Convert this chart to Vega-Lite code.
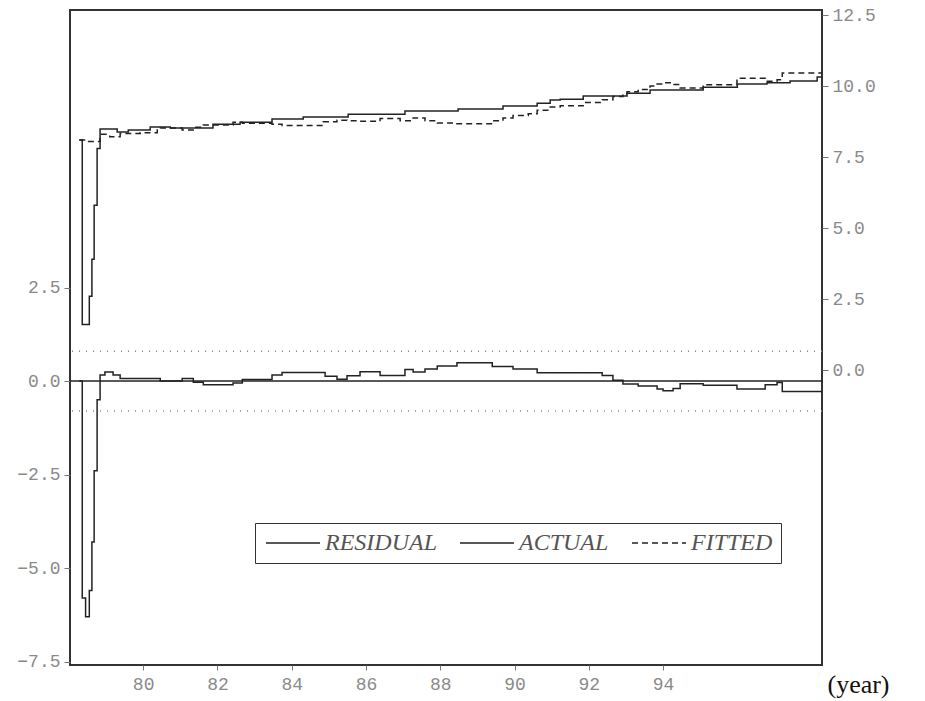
{
  "$schema": "https://vega.github.io/schema/vega-lite/v6.json",
  "width": 752,
  "height": 655,
  "autosize": {"type": "none"},
  "padding": {"left": 70, "top": 10, "right": 103, "bottom": 36},
  "background": "white",
  "config": {
    "view": {"stroke": "#333", "strokeWidth": 2},
    "axis": {"grid": false, "domain": false, "labelFont": "Liberation Mono", "labelFontSize": 18, "labelColor": "#8a8a8a", "tickColor": "#777", "tickSize": 6, "labelPadding": 4}
  },
  "datasets": {
    "series": [
      {"t": 78.28, "s": "ACTUAL", "v": 8.10},
      {"t": 78.36, "s": "ACTUAL", "v": 1.60},
      {"t": 78.55, "s": "ACTUAL", "v": 2.60},
      {"t": 78.62, "s": "ACTUAL", "v": 3.90},
      {"t": 78.68, "s": "ACTUAL", "v": 5.80},
      {"t": 78.76, "s": "ACTUAL", "v": 7.80},
      {"t": 78.84, "s": "ACTUAL", "v": 8.49},
      {"t": 79.30, "s": "ACTUAL", "v": 8.38},
      {"t": 79.60, "s": "ACTUAL", "v": 8.45},
      {"t": 80.19, "s": "ACTUAL", "v": 8.56},
      {"t": 80.73, "s": "ACTUAL", "v": 8.52},
      {"t": 81.88, "s": "ACTUAL", "v": 8.66},
      {"t": 82.61, "s": "ACTUAL", "v": 8.73},
      {"t": 83.47, "s": "ACTUAL", "v": 8.84},
      {"t": 84.31, "s": "ACTUAL", "v": 8.91},
      {"t": 85.52, "s": "ACTUAL", "v": 9.01},
      {"t": 87.05, "s": "ACTUAL", "v": 9.12},
      {"t": 88.48, "s": "ACTUAL", "v": 9.19},
      {"t": 89.69, "s": "ACTUAL", "v": 9.30},
      {"t": 90.61, "s": "ACTUAL", "v": 9.40},
      {"t": 90.96, "s": "ACTUAL", "v": 9.51},
      {"t": 91.23, "s": "ACTUAL", "v": 9.54},
      {"t": 91.85, "s": "ACTUAL", "v": 9.65},
      {"t": 93.03, "s": "ACTUAL", "v": 9.75},
      {"t": 93.65, "s": "ACTUAL", "v": 9.86},
      {"t": 95.08, "s": "ACTUAL", "v": 9.96},
      {"t": 96.00, "s": "ACTUAL", "v": 10.07},
      {"t": 96.80, "s": "ACTUAL", "v": 10.12},
      {"t": 97.42, "s": "ACTUAL", "v": 10.18},
      {"t": 98.15, "s": "ACTUAL", "v": 10.32},
      {"t": 98.28, "s": "ACTUAL", "v": 10.32},
      {"t": 78.28, "s": "FITTED", "v": 8.10},
      {"t": 78.50, "s": "FITTED", "v": 8.05},
      {"t": 78.84, "s": "FITTED", "v": 8.30},
      {"t": 79.10, "s": "FITTED", "v": 8.22},
      {"t": 79.38, "s": "FITTED", "v": 8.33},
      {"t": 79.92, "s": "FITTED", "v": 8.36},
      {"t": 80.38, "s": "FITTED", "v": 8.45},
      {"t": 80.46, "s": "FITTED", "v": 8.52},
      {"t": 81.05, "s": "FITTED", "v": 8.45},
      {"t": 81.35, "s": "FITTED", "v": 8.55},
      {"t": 81.62, "s": "FITTED", "v": 8.63},
      {"t": 82.42, "s": "FITTED", "v": 8.73},
      {"t": 82.67, "s": "FITTED", "v": 8.69},
      {"t": 83.47, "s": "FITTED", "v": 8.66},
      {"t": 83.74, "s": "FITTED", "v": 8.61},
      {"t": 84.85, "s": "FITTED", "v": 8.74},
      {"t": 85.22, "s": "FITTED", "v": 8.80},
      {"t": 85.49, "s": "FITTED", "v": 8.78},
      {"t": 85.84, "s": "FITTED", "v": 8.76},
      {"t": 86.38, "s": "FITTED", "v": 8.86},
      {"t": 86.92, "s": "FITTED", "v": 8.78},
      {"t": 87.27, "s": "FITTED", "v": 8.88},
      {"t": 87.59, "s": "FITTED", "v": 8.78},
      {"t": 87.92, "s": "FITTED", "v": 8.70},
      {"t": 88.45, "s": "FITTED", "v": 8.67},
      {"t": 89.40, "s": "FITTED", "v": 8.78},
      {"t": 89.69, "s": "FITTED", "v": 8.88},
      {"t": 89.96, "s": "FITTED", "v": 8.96},
      {"t": 90.37, "s": "FITTED", "v": 9.03},
      {"t": 90.61, "s": "FITTED", "v": 9.15},
      {"t": 90.96, "s": "FITTED", "v": 9.26},
      {"t": 91.23, "s": "FITTED", "v": 9.31},
      {"t": 91.85, "s": "FITTED", "v": 9.42},
      {"t": 92.36, "s": "FITTED", "v": 9.52},
      {"t": 92.65, "s": "FITTED", "v": 9.63},
      {"t": 92.92, "s": "FITTED", "v": 9.73},
      {"t": 93.03, "s": "FITTED", "v": 9.80},
      {"t": 93.33, "s": "FITTED", "v": 9.88},
      {"t": 93.65, "s": "FITTED", "v": 10.00},
      {"t": 93.84, "s": "FITTED", "v": 10.07},
      {"t": 94.00, "s": "FITTED", "v": 10.12},
      {"t": 94.27, "s": "FITTED", "v": 10.06},
      {"t": 94.46, "s": "FITTED", "v": 9.93},
      {"t": 95.08, "s": "FITTED", "v": 10.05},
      {"t": 95.99, "s": "FITTED", "v": 10.28},
      {"t": 96.75, "s": "FITTED", "v": 10.17},
      {"t": 97.07, "s": "FITTED", "v": 10.22},
      {"t": 97.21, "s": "FITTED", "v": 10.46},
      {"t": 98.28, "s": "FITTED", "v": 10.46},
      {"t": 78.28, "s": "RESIDUAL", "v": 0.0},
      {"t": 78.36, "s": "RESIDUAL", "v": -5.8},
      {"t": 78.45, "s": "RESIDUAL", "v": -6.3},
      {"t": 78.55, "s": "RESIDUAL", "v": -5.6},
      {"t": 78.62, "s": "RESIDUAL", "v": -4.3},
      {"t": 78.68, "s": "RESIDUAL", "v": -2.4},
      {"t": 78.76, "s": "RESIDUAL", "v": -0.5},
      {"t": 78.84, "s": "RESIDUAL", "v": 0.16},
      {"t": 78.97, "s": "RESIDUAL", "v": 0.24},
      {"t": 79.19, "s": "RESIDUAL", "v": 0.16},
      {"t": 79.38, "s": "RESIDUAL", "v": 0.07},
      {"t": 80.46, "s": "RESIDUAL", "v": 0.0},
      {"t": 81.05, "s": "RESIDUAL", "v": 0.07},
      {"t": 81.35, "s": "RESIDUAL", "v": -0.03},
      {"t": 81.62, "s": "RESIDUAL", "v": -0.10},
      {"t": 82.42, "s": "RESIDUAL", "v": -0.05},
      {"t": 82.67, "s": "RESIDUAL", "v": 0.04},
      {"t": 83.47, "s": "RESIDUAL", "v": 0.16},
      {"t": 83.74, "s": "RESIDUAL", "v": 0.23},
      {"t": 84.90, "s": "RESIDUAL", "v": 0.13},
      {"t": 85.22, "s": "RESIDUAL", "v": 0.05},
      {"t": 85.49, "s": "RESIDUAL", "v": 0.14},
      {"t": 85.84, "s": "RESIDUAL", "v": 0.25},
      {"t": 86.38, "s": "RESIDUAL", "v": 0.15},
      {"t": 87.05, "s": "RESIDUAL", "v": 0.31},
      {"t": 87.27, "s": "RESIDUAL", "v": 0.24},
      {"t": 87.59, "s": "RESIDUAL", "v": 0.32},
      {"t": 87.92, "s": "RESIDUAL", "v": 0.40},
      {"t": 88.45, "s": "RESIDUAL", "v": 0.49},
      {"t": 89.40, "s": "RESIDUAL", "v": 0.39},
      {"t": 89.96, "s": "RESIDUAL", "v": 0.32},
      {"t": 90.61, "s": "RESIDUAL", "v": 0.22},
      {"t": 92.36, "s": "RESIDUAL", "v": 0.15},
      {"t": 92.65, "s": "RESIDUAL", "v": 0.02},
      {"t": 92.92, "s": "RESIDUAL", "v": -0.08},
      {"t": 93.33, "s": "RESIDUAL", "v": -0.13},
      {"t": 93.84, "s": "RESIDUAL", "v": -0.21},
      {"t": 94.00, "s": "RESIDUAL", "v": -0.26},
      {"t": 94.27, "s": "RESIDUAL", "v": -0.20},
      {"t": 94.46, "s": "RESIDUAL", "v": -0.07},
      {"t": 95.08, "s": "RESIDUAL", "v": -0.11},
      {"t": 95.99, "s": "RESIDUAL", "v": -0.21},
      {"t": 96.75, "s": "RESIDUAL", "v": -0.10},
      {"t": 97.07, "s": "RESIDUAL", "v": -0.04},
      {"t": 97.21, "s": "RESIDUAL", "v": -0.28},
      {"t": 98.28, "s": "RESIDUAL", "v": -0.28}
    ],
    "bands": [
      {"b": 0.0, "kind": "zero"},
      {"b": 0.8, "kind": "se"},
      {"b": -0.8, "kind": "se"}
    ]
  },
  "layer": [
    {
      "layer": [
        {
          "data": {"name": "bands"},
          "transform": [{"filter": "datum.kind === 'se'"}],
          "mark": {"type": "rule", "color": "#888", "strokeWidth": 1.5, "strokeDash": [1, 6]},
          "encoding": {
            "y": {"field": "b", "type": "quantitative", "scale": {"domain": [-7.59, 9.92], "nice": false, "zero": false},
              "axis": {"orient": "left", "values": [-7.5, -5, -2.5, 0, 2.5], "format": ".1f", "title": null}}
          }
        },
        {
          "data": {"name": "bands"},
          "transform": [{"filter": "datum.kind === 'zero'"}],
          "mark": {"type": "rule", "color": "#222", "strokeWidth": 1.5},
          "encoding": {
            "y": {"field": "b", "type": "quantitative"}
          }
        },
        {
          "data": {"name": "series"},
          "transform": [{"filter": "datum.s === 'RESIDUAL'"}],
          "mark": {"type": "line", "interpolate": "step-after", "color": "#222", "strokeWidth": 1.5},
          "encoding": {
            "x": {"field": "t", "type": "quantitative", "scale": {"domain": [78.03, 98.28], "nice": false, "zero": false},
              "axis": {"values": [80, 82, 84, 86, 88, 90, 92, 94], "format": "d", "tickSize": 5, "labelPadding": 5, "labelFontSize": 18,
                "title": "(year)", "titleFont": "Liberation Serif", "titleFontSize": 26, "titleFontWeight": "normal", "titleColor": "#111",
                "titleX": 788, "titleY": 19, "titleAlign": "center", "titleBaseline": "middle"}},
            "y": {"field": "v", "type": "quantitative"},
            "strokeDash": {"field": "s", "type": "nominal",
              "scale": {"domain": ["RESIDUAL", "ACTUAL", "FITTED"], "range": [[1, 0], [1, 0], [6, 4]]},
              "legend": {"title": null, "orient": "none", "legendX": 185, "legendY": 513, "direction": "horizontal",
                "symbolType": "M-1,0H5", "symbolSize": 324, "symbolStrokeWidth": 1.5, "symbolStrokeColor": "#222",
                "labelFont": "Liberation Serif", "labelFontStyle": "italic", "labelFontSize": 24, "labelColor": "#555",
                "labelOffset": 38, "columnPadding": 20, "strokeColor": "#333", "padding": 8}}
          }
        }
      ]
    },
    {
      "data": {"name": "series"},
      "transform": [{"filter": "datum.s !== 'RESIDUAL'"}],
      "mark": {"type": "line", "interpolate": "step-after", "color": "#222", "strokeWidth": 1.5},
      "encoding": {
        "x": {"field": "t", "type": "quantitative"},
        "y": {"field": "v", "type": "quantitative", "scale": {"domain": [-10.39, 12.68], "nice": false, "zero": false},
          "axis": {"orient": "right", "values": [0, 2.5, 5, 7.5, 10, 12.5], "format": ".1f", "title": null}},
        "strokeDash": {"field": "s", "type": "nominal"}
      }
    }
  ],
  "resolve": {"scale": {"y": "independent"}}
}
